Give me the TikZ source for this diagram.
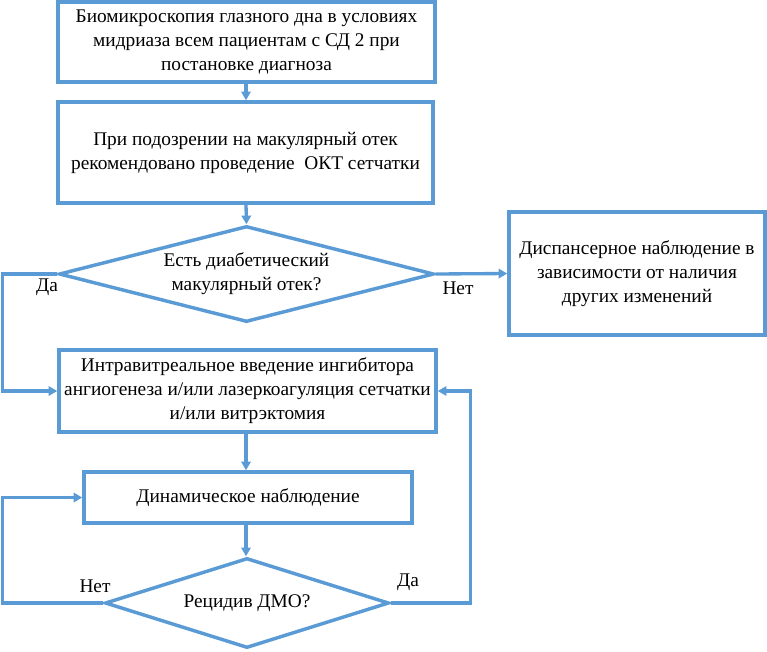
\documentclass[tikz,border=0pt]{standalone}
\usepackage{fontspec}
\setmainfont{Liberation Serif}
\usetikzlibrary{shapes.geometric,arrows.meta}
\definecolor{fcblue}{RGB}{91,155,213}
\begin{document}
\begin{tikzpicture}[x=0.75pt,y=-0.75pt,
  txt/.style={font=\fontsize{14.5}{18}\selectfont},
  box/.style={txt,draw=fcblue,line width=2.6pt,rectangle,align=center,inner sep=0pt},
  dec/.style={txt,draw=fcblue,line width=2.6pt,diamond,aspect=4,inner sep=0pt,align=center},
  conn/.style={draw=fcblue,line width=2.5pt},
  arr/.style={conn,-{Triangle[length=6.5pt,width=7pt]}},
  lbl/.style={txt}]
\useasboundingbox (0,0) rectangle (767,651);

\node[box,minimum width=282.75pt,minimum height=60pt] (b1) at (246.5,42)
  {Биомикроскопия глазного дна в условиях\\мидриаза всем пациентам с СД 2 при\\постановке диагноза};
\node[box,minimum width=281.25pt,minimum height=75.75pt] (b2) at (245.5,152.5)
  {При подозрении на макулярный отек\\рекомендовано проведение~ ОКТ сетчатки};
\node[dec,minimum width=281.25pt,minimum height=72pt] (d1) at (246.5,274)
  {Есть диабетический\\макулярный отек?};
\node[box,minimum width=192pt,minimum height=92.25pt] (b3) at (637,273.5)
  {Диспансерное наблюдение в\\зависимости от наличия\\других изменений};
\node[box,minimum width=282.75pt,minimum height=61.5pt] (b4) at (247.5,391)
  {Интравитреальное введение ингибитора\\ангиогенеза и/или лазеркоагуляция сетчатки\\и/или витрэктомия};
\node[box,minimum width=246pt,minimum height=38.25pt] (b5) at (248,497.5)
  {Динамическое наблюдение};
\node[dec,minimum width=213pt,minimum height=67.5pt] (d2) at (247,603)
  {Рецидив ДМО?};

\coordinate (l1) at (2.5,274);
\coordinate (l2) at (2.5,603);
\coordinate (r2) at (470.5,603);

\draw[arr] (b1.south -| 246,0) -- (b2.north -| 246,0);
\draw[arr] (b2.south -| 246,0) -- (d1.north);
\draw[arr] (d1.east) -- (b3.west);
\draw[arr] (d1.west) -- (l1) |- (b4.west);
\draw[arr] (b4.south -| 246,0) -- (b5.north -| 246,0);
\draw[arr] (b5.south -| 246,0) -- (d2.north -| 246,0);
\draw[arr] (d2.west) -- (l2) |- (b5.west);
\draw[arr] (d2.east) -- (r2) |- (b4.east);

\node[lbl] (da1) at (47,287) {Да};
\node[lbl] (net1) at (458,288) {Нет};
\node[lbl] (net2) at (95,586) {Нет};
\node[lbl] (da2) at (408,582) {Да};
\end{tikzpicture}
\end{document}
